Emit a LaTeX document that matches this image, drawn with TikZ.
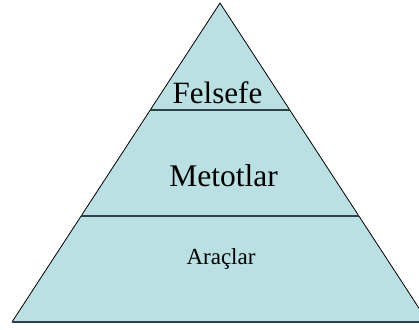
\documentclass[tikz,border=0pt]{standalone}
\usepackage{fontspec}
\setmainfont{Liberation Serif}
\usetikzlibrary{calc}
\definecolor{layerfill}{RGB}{187,224,227}
\definecolor{layerline}{RGB}{45,65,70}
\tikzset{
  layertext/.style={anchor=base,inner sep=0pt},
  layersep/.style={layerline,line width=1.3pt}
}

\begin{document}
\begin{tikzpicture}[x=1pt,y=-1pt]
    \useasboundingbox (0,0) rectangle (419,329);
    \clip (0,0) rectangle (419,329);
    \coordinate (apex) at (220,3);
    \coordinate (baseL) at (12,322);
    \coordinate (baseR) at (428,322);
    \fill[layerfill] (apex) -- (baseL) -- (baseR) -- cycle;
    \draw[line width=0.8pt] (baseL) -- (apex) -- (baseR);
    \draw[layersep] (baseL) -- (baseR);
    % layer borders
    \draw[layersep] ($(apex)!107/319!(baseL)$) -- ($(apex)!107/319!(baseR)$);
    \draw[layersep] ($(apex)!213/319!(baseL)$) -- ($(apex)!213/319!(baseR)$);
    \node[layertext,font=\fontsize{31}{36}\selectfont] (felsefe) at (217.5,103) {Felsefe};
    \node[layertext,font=\fontsize{31.5}{36}\selectfont] (metotlar) at (223.5,186) {Metotlar};
    \node[layertext,font=\fontsize{23}{28}\selectfont] (araclar) at (221,264) {Araçlar};
  \end{tikzpicture}
\end{document}
